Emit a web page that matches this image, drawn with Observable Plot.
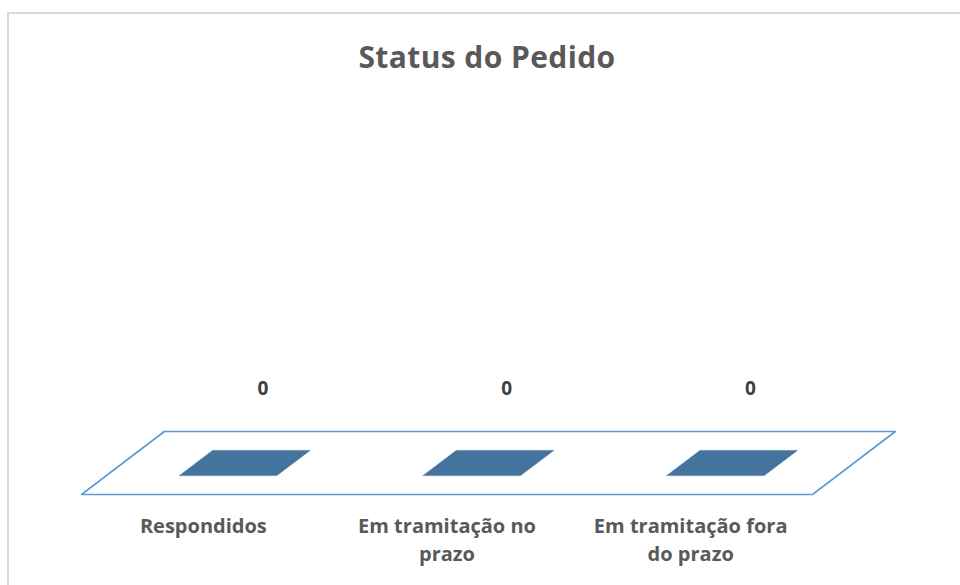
<!DOCTYPE html>
<html>
<head>
<meta charset="utf-8">
<script src="https://cdn.jsdelivr.net/npm/d3@7"></script>
<script src="https://cdn.jsdelivr.net/npm/@observablehq/plot@0.6"></script>
<style>
  html, body { margin: 0; padding: 0; background: #fff; overflow: hidden; width: 960px; height: 585px; }
  #frame { position: absolute; left: 7px; top: 12px; width: 1000px; height: 700px; border: 2px solid #d9d9d9; box-sizing: border-box; }
  #title { position: absolute; left: 7px; width: 960px; top: 42px; text-align: center; font-family: "Open Sans", sans-serif; font-weight: 700; font-size: 30px; letter-spacing: 0.4px; line-height: 1; color: #595959; }
  #chart { position: absolute; left: 0; top: 0; }
</style>
</head>
<body>
<div id="frame"></div>
<div id="title">Status do Pedido</div>
<div id="chart"></div>
<script>
// ---- data ----
const categories = ["Respondidos", "Em tramitação no prazo", "Em tramitação fora do prazo"];
const categoryLabels = ["Respondidos", "Em tramitação no\nprazo", "Em tramitação fora\ndo prazo"];
const values = [0, 0, 0];

// ---- oblique 3D projection in data units ----
const shear = 0.34;        // x shift (category units) per unit of depth
const valueScale = 1;      // vertical units per value unit
const proj = (pos, depth, v) => ({x: pos + depth * shear, y: depth + v * valueScale});

// floor of the 3D plot area (category span x full depth)
const n = categories.length;
const floor = [[0,0],[n,0],[n,1],[0,1],[0,0]].map(([p, d]) => proj(p, d, 0));

// bar top faces (zero-height columns)
const barLo = 0.3, barHi = 0.7, dLo = 0.3, dHi = 0.7;
const bars = categories.flatMap((c, i) =>
  [[i + barLo, dLo], [i + barHi, dLo], [i + barHi, dHi], [i + barLo, dHi], [i + barLo, dLo]]
    .map(([p, d]) => ({...proj(p, d, values[i]), cat: c}))
);

const valueLabels = categories.map((c, i) => ({...proj(i + 0.5, 0.72, values[i]), text: String(values[i])}));
const catLabels = categories.map((c, i) => ({...proj(i + 0.5, 0, 0), text: categoryLabels[i]}));

const chart = Plot.plot({
  width: 960,
  height: 585,
  marginLeft: 81,
  marginRight: 148,
  marginTop: 431,
  marginBottom: 91,
  x: {type: "linear", domain: [0, n], axis: null},
  y: {type: "linear", domain: [0, 1], axis: null},
  style: {background: "transparent", fontFamily: "Open Sans, sans-serif"},
  marks: [
    Plot.line(floor, {x: "x", y: "y", stroke: "#5B9BD5", strokeWidth: 1.6, curve: "linear"}),
    Plot.line(bars, {x: "x", y: "y", z: "cat", fill: "#44739E", stroke: "#44739E", strokeWidth: 0.5}),
    Plot.text(valueLabels, {x: "x", y: "y", text: "text", dy: -60, fontSize: 19, fontWeight: 700, fill: "#404040"}),
    Plot.text(catLabels, {x: "x", y: "y", text: "text", lineAnchor: "top", dy: 18, lineHeight: 1.42, fontSize: 20, fontWeight: 700, fill: "#595959"})
  ]
});
document.getElementById("chart").appendChild(chart);
</script>
</body>
</html>
